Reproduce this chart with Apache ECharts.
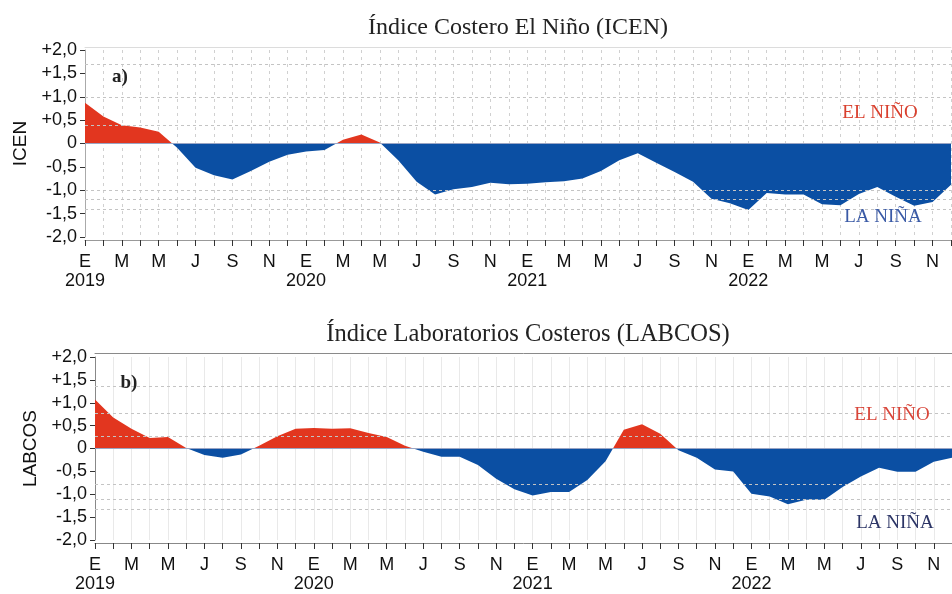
<!DOCTYPE html>
<html>
<head>
<meta charset="utf-8">
<script src="https://cdn.jsdelivr.net/npm/echarts@6/dist/echarts.min.js"></script>
<style>
  html, body { margin: 0; padding: 0; background: #ffffff; }
  #chart { width: 952px; height: 594px; }
</style>
</head>
<body>
<div id="chart"></div>
<script>
// Month initials (Spanish) and years for the time axis
const monthLetters = ['E', 'F', 'M', 'A', 'M', 'J', 'J', 'A', 'S', 'O', 'N', 'D'];
const years = [2019, 2020, 2021, 2022];

// Value axis ticks and their printed labels
const yTicks = [-2, -1.5, -1, -0.5, 0, 0.5, 1, 1.5, 2];
const yTickLabels = ['-2,0', '-1,5', '-1,0', '-0,5', '0', '+0,5', '+1,0', '+1,5', '+2,0'];

// Monthly index values, Jan 2019 - Dec 2022
const icen = [
  0.87, 0.58, 0.39, 0.34, 0.25, -0.09, -0.52, -0.68, -0.77, -0.59, -0.39, -0.24,
  -0.17, -0.14, 0.08, 0.19, 0.02, -0.36, -0.82, -1.09, -0.98, -0.93, -0.84, -0.87,
  -0.86, -0.83, -0.81, -0.75, -0.59, -0.36, -0.21, -0.41, -0.61, -0.82, -1.18, -1.28,
  -1.42, -1.06, -1.09, -1.09, -1.30, -1.32, -1.08, -0.93, -1.14, -1.33, -1.25, -0.88
];
const labcos = [
  1.07, 0.68, 0.43, 0.23, 0.25, 0.01, -0.14, -0.20, -0.13, 0.06, 0.27, 0.43,
  0.45, 0.43, 0.44, 0.34, 0.25, 0.06, -0.07, -0.18, -0.18, -0.36, -0.66, -0.89,
  -1.03, -0.95, -0.95, -0.69, -0.28, 0.41, 0.53, 0.32, -0.04, -0.20, -0.46, -0.50,
  -0.99, -1.05, -1.22, -1.12, -1.12, -0.84, -0.61, -0.42, -0.51, -0.51, -0.29, -0.20
];

// Category thresholds drawn as dashed reference lines
const icenThresholds = [1.7, 1.0, 0.4, -1.0, -1.2, -1.4];
const labcosThresholds = [1.37, 0.77, 0.27, -0.78, -1.1, -1.32];

const RED = '#e2361f';
const BLUE = '#0b4fa3';
const SANS = '"Liberation Sans", Arial, sans-serif';
const SERIF = '"Liberation Serif", "Times New Roman", serif';

const months = [];
years.forEach(y => monthLetters.forEach((m, i) => months.push(i === 0 ? m + '\n' + y : m)));

function yLabel(v) {
  const k = yTicks.findIndex(t => Math.abs(t - v) < 1e-6);
  return k >= 0 ? yTickLabels[k] : '';
}

function bottomAxis(gridIndex, lineColor, gridStyle) {
  return {
    type: 'category', gridIndex, data: months, boundaryGap: false, offset: 3,
    axisLine: { onZero: false, lineStyle: { color: lineColor, width: 1 } },
    axisTick: { interval: 0, length: 6, lineStyle: { color: '#333' } },
    axisLabel: { interval: 1, fontFamily: SANS, fontSize: 18, lineHeight: 19, color: '#111', margin: 13 },
    splitLine: { show: true, interval: 0, lineStyle: gridStyle }
  };
}
function topBorder(gridIndex, lineColor, offset) {
  return {
    type: 'category', gridIndex, position: 'top', data: months, boundaryGap: false, offset,
    axisLine: { onZero: false, lineStyle: { color: lineColor, width: 1 } },
    axisTick: { show: false }, axisLabel: { show: false }, splitLine: { show: false }
  };
}
function valueAxis(gridIndex, name, lineColor) {
  return {
    type: 'value', gridIndex, min: -2, max: 2, interval: 0.5,
    name, nameLocation: 'middle', nameGap: 50,
    nameTextStyle: { fontFamily: SANS, fontSize: 19, color: '#111' },
    axisLine: { show: true, lineStyle: { color: lineColor } },
    axisTick: { show: true, length: 5, lineStyle: { color: '#333' } },
    axisLabel: { formatter: yLabel, fontFamily: SANS, fontSize: 18, color: '#111', margin: 8 },
    splitLine: { show: false }
  };
}
function indexSeries(data, axisIdx, thresholds) {
  return {
    type: 'line', xAxisIndex: axisIdx * 2, yAxisIndex: axisIdx, data,
    symbol: 'none', smooth: false, silent: true, animation: false,
    lineStyle: { width: 0 },
    areaStyle: { opacity: 1 },
    markLine: {
      silent: true, symbol: ['none', 'none'], animation: false,
      label: { show: false },
      data: thresholds.map(v => ({ yAxis: v, lineStyle: { type: [3, 3], color: '#c4c4c4', width: 1 } }))
        .concat([{ yAxis: 0, lineStyle: { type: 'solid', color: '#9aa5c4', width: 1 } }])
    }
  };
}
// Warm anomalies filled red, cold anomalies filled blue
function signMap(seriesIndex) {
  return {
    type: 'piecewise', show: false, seriesIndex, dimension: 1,
    pieces: [{ gt: 0, lte: 5, color: RED }, { gte: -5, lte: 0, color: BLUE }],
    outOfRange: { color: BLUE }
  };
}
function label(text, x, y, font, fill) {
  return { type: 'text', x, y, silent: true, z: 100,
    style: { text, font, fill, align: 'center', verticalAlign: 'middle' } };
}

const chart = echarts.init(document.getElementById('chart'));
chart.setOption({
  backgroundColor: '#ffffff',
  animation: false,
  grid: [
    { left: 85, top: 50, width: 866, height: 187 },
    { left: 95, top: 357, width: 866, height: 187 }
  ],
  xAxis: [
    bottomAxis(0, '#999', { type: [3, 4], color: '#d0d0d0', width: 1 }),
    topBorder(0, '#dcdcdc', 3),
    bottomAxis(1, '#888', { type: 'solid', color: '#e9e9e9', width: 1 }),
    topBorder(1, '#8a8a8a', 4)
  ],
  yAxis: [
    valueAxis(0, 'ICEN', '#aaa'),
    valueAxis(1, 'LABCOS', '#888')
  ],
  visualMap: [signMap(0), signMap(1)],
  series: [
    indexSeries(icen, 0, icenThresholds),
    indexSeries(labcos, 1, labcosThresholds)
  ],
  graphic: [
    label('Índice Costero El Niño (ICEN)', 518, 28, '24px ' + SERIF, '#222'),
    label('Índice Laboratorios Costeros (LABCOS)', 528, 335, '24.5px ' + SERIF, '#222'),
    label('a)', 120, 77, 'bold 19px ' + SERIF, '#222'),
    label('b)', 129, 383, 'bold 19px ' + SERIF, '#222'),
    label('EL NIÑO', 880, 113, '19px ' + SERIF, '#d9402e'),
    label('LA NIÑA', 883, 217, '19px ' + SERIF, '#3a5aa6'),
    label('EL NIÑO', 892, 415, '19px ' + SERIF, '#d8463a'),
    label('LA NIÑA', 895, 523, '19px ' + SERIF, '#2c3566')
  ]
});
</script>
</body>
</html>
